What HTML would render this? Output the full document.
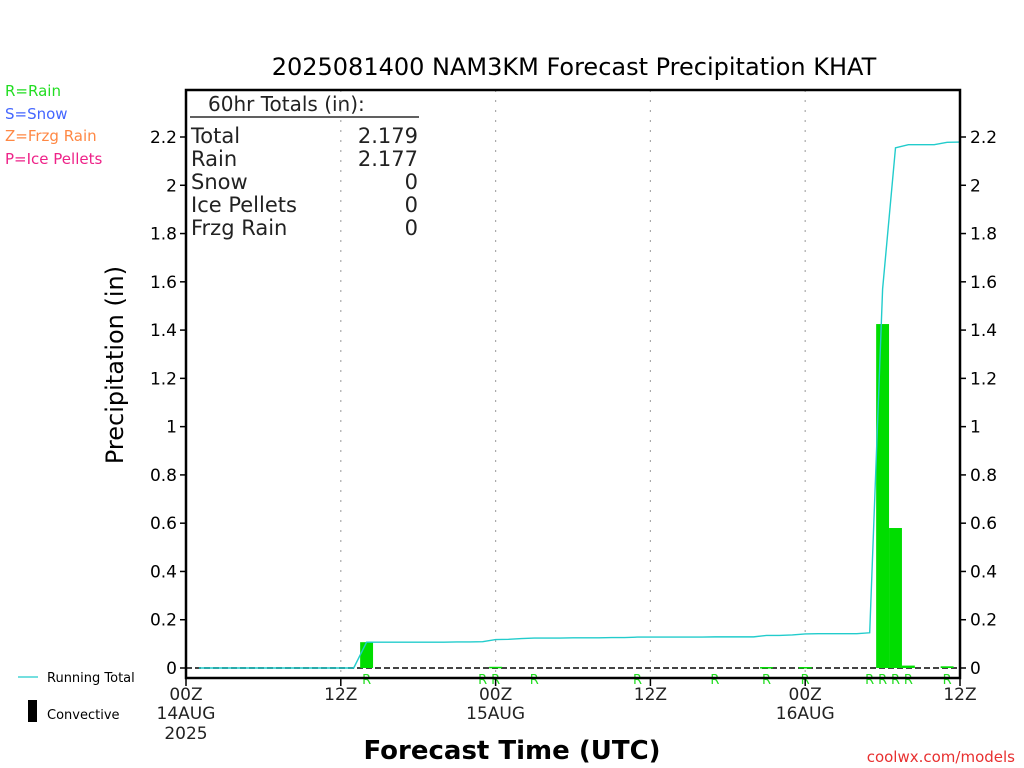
<!DOCTYPE html>
<html><head><meta charset="utf-8"><style>
html,body{margin:0;padding:0;background:#fff;}
svg{display:block;font-family:"DejaVu Sans","Liberation Sans",sans-serif;}
</style></head><body>
<svg id="chart" width="1024" height="768" viewBox="0 0 1024 768">
<g id="static">
<text x="574" y="75" font-size="24" text-anchor="middle" fill="#000">2025081400 NAM3KM Forecast Precipitation KHAT</text>
<text x="5" y="96" font-size="15" fill="#22dd22">R=Rain</text>
<text x="5" y="119" font-size="15" fill="#4466ff">S=Snow</text>
<text x="5" y="141" font-size="15" fill="#ff8844">Z=Frzg Rain</text>
<text x="5" y="164" font-size="15" fill="#ee2288">P=Ice Pellets</text>
<text transform="translate(123,365) rotate(-90)" font-size="24" text-anchor="middle">Precipitation (in)</text>
<text x="512" y="759" font-size="26" text-anchor="middle" font-weight="bold">Forecast Time (UTC)</text>
<text x="1015" y="762" font-size="15" text-anchor="end" fill="#e83030">coolwx.com/models</text>
<line x1="18" y1="677" x2="38" y2="677" stroke="#22cccc" stroke-width="1.3"/>
<text x="47" y="682" font-size="13">Running Total</text>
<rect x="28" y="700" width="9" height="22" fill="#000"/>
<text x="47" y="719" font-size="13">Convective</text>
<g>
<text x="208" y="111" font-size="20" fill="#222">60hr Totals (in):</text>
<line x1="190" y1="117" x2="419" y2="117" stroke="#000" stroke-width="1.2"/>
<text x="191" y="143" font-size="21" fill="#222">Total</text><text x="418" y="143" font-size="21" text-anchor="end" fill="#222">2.179</text>
<text x="191" y="166" font-size="21" fill="#222">Rain</text><text x="418" y="166" font-size="21" text-anchor="end" fill="#222">2.177</text>
<text x="191" y="189" font-size="21" fill="#222">Snow</text><text x="418" y="189" font-size="21" text-anchor="end" fill="#222">0</text>
<text x="191" y="212" font-size="21" fill="#222">Ice Pellets</text><text x="418" y="212" font-size="21" text-anchor="end" fill="#222">0</text>
<text x="191" y="235" font-size="21" fill="#222">Frzg Rain</text><text x="418" y="235" font-size="21" text-anchor="end" fill="#222">0</text>
</g>
</g>
<g id="grid"></g><g id="bars"></g><g id="line"></g><g id="axes"></g>
</svg>
<script>
const yTicks=[0,0.2,0.4,0.6,0.8,1,1.2,1.4,1.6,1.8,2,2.2];
const yTickLabels=["0","0.2","0.4","0.6","0.8","1","1.2","1.4","1.6","1.8","2","2.2"];
const xTickHours=[0,12,24,36,48,60];
const xTickLabels=["00Z","12Z","00Z","12Z","00Z","12Z"];
const xDateLabels=[["14AUG","2025"],[],["15AUG"],[],["16AUG"],[]];
const barHours=[14,24,45,48,54,55,56,59];
const barValues=[0.107,0.005,0.004,0.004,1.425,0.58,0.01,0.007];
const rainHours=[14,23,24,27,35,41,45,48,53,54,55,56,59];
const totalHours=[1,2,3,4,5,6,7,8,9,10,11,12,13,14,15,16,17,18,19,20,21,22,23,24,25,26,27,28,29,30,31,32,33,34,35,36,37,38,39,40,41,42,43,44,45,46,47,48,49,50,51,52,53,54,55,56,57,58,59,60];
const totalValues=[0,0,0,0,0,0,0,0,0,0,0,0,0,0.107,0.107,0.107,0.107,0.107,0.107,0.107,0.108,0.108,0.109,0.118,0.119,0.122,0.124,0.124,0.124,0.125,0.125,0.125,0.126,0.126,0.128,0.128,0.128,0.128,0.128,0.128,0.129,0.129,0.129,0.129,0.135,0.135,0.137,0.141,0.142,0.142,0.142,0.142,0.146,1.57,2.155,2.168,2.168,2.168,2.178,2.179];

const L=186,R=960,T=90,B=678,Y0=668,Y22=137;
const x=h=>L+(R-L)*h/60;
const y=v=>Y0-(Y0-Y22)*v/2.2;
const NS="http://www.w3.org/2000/svg";
function mk(tag,attrs,parent){const e=document.createElementNS(NS,tag);for(const k in attrs)e.setAttribute(k,attrs[k]);document.getElementById(parent).appendChild(e);return e;}

xTickHours.forEach((h,i)=>{ if(i>0&&i<xTickHours.length-1){
  const g=mk('line',{x1:x(h),y1:T,x2:x(h),y2:B,stroke:'#aaa','stroke-width':1.2,'stroke-dasharray':'2,8'},'grid');
  
  }});
const zl=mk('line',{x1:L,y1:y(0),x2:R,y2:y(0),stroke:'#444','stroke-width':2,'stroke-dasharray':'6,3'},'grid');



barHours.forEach((h,i)=>{
  const b=mk('rect',{x:x(h-0.5),y:y(barValues[i]),width:x(h+0.5)-x(h-0.5),height:Math.max(y(0)-y(barValues[i]),1.5),fill:'#00dd00'},'bars');
  
  
});
rainHours.forEach(h=>{
  const t=mk('text',{x:x(h),y:684,'font-size':13,'text-anchor':'middle',fill:'#22dd22'},'bars');
  t.textContent='R';
  
  
});
const pts=totalHours.map((h,i)=>x(h)+','+y(totalValues[i])).join(' ');
const pl=mk('polyline',{points:pts,fill:'none',stroke:'#22cccc','stroke-width':1.4},'line');



const frame=mk('rect',{x:L,y:T,width:R-L,height:B-T,fill:'none',stroke:'#000','stroke-width':2.5},'axes');


yTicks.forEach((v,i)=>{
  mk('line',{x1:L-6,y1:y(v),x2:L,y2:y(v),stroke:'#000','stroke-width':1.5},'axes');
  mk('line',{x1:R,y1:y(v),x2:R+6,y2:y(v),stroke:'#000','stroke-width':1.5},'axes');
  const a=mk('text',{x:L-9,y:y(v)+6,'font-size':17,'text-anchor':'end'},'axes');
  a.textContent=yTickLabels[i];
  
  
  const b=mk('text',{x:R+10,y:y(v)+6,'font-size':17,'text-anchor':'start'},'axes');
  b.textContent=yTickLabels[i];
  
  
});
xTickHours.forEach((h,i)=>{
  mk('line',{x1:x(h),y1:B,x2:x(h),y2:B+8,stroke:'#000','stroke-width':1.5},'axes');
  const t=mk('text',{x:x(h),y:700,'font-size':17,'text-anchor':'middle',fill:'#222'},'axes');
  t.textContent=xTickLabels[i];
  
  
  xDateLabels[i].forEach((s,j)=>{
    const d=mk('text',{x:x(h),y:719+j*20,'font-size':17,'text-anchor':'middle',fill:'#222'},'axes');
    d.textContent=s;
    
    
  });
});
</script>
</body></html>
